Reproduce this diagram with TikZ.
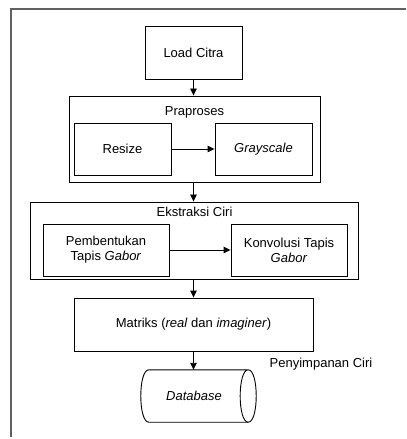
\documentclass[tikz,border=0pt]{standalone}
\usepackage{fontspec}
\setmainfont{Liberation Sans}
\usetikzlibrary{arrows.meta}
\begin{document}
\begin{tikzpicture}[x=1bp,y=-1bp,
  every node/.style={font=\fontsize{13bp}{15bp}\selectfont, inner sep=0pt, align=center},
  box/.style={draw=black, line width=0.9bp, fill=white},
  conn/.style={draw=black, line width=0.9bp, -{Triangle[length=7bp,width=6.5bp]}},
  lbl/.style={}]
\useasboundingbox (0,0) rectangle (406,439);
\fill[white] (0,0) rectangle (406,439);
\draw[draw=black!62, line width=1.3bp] (11,437) -- (11,9) -- (406,9);

\node[box, minimum width=97bp, minimum height=53bp] (load) at (193.5,52.5) {Load Citra};

\node[box, minimum width=251bp, minimum height=86bp] (prap) at (194.5,139) {};
\node[lbl] (praptitle) at (194.5,112) {Praproses};
\node[box, minimum width=97bp, minimum height=52bp] (resize) at (122.5,149) {Resize};
\node[box, minimum width=97bp, minimum height=52bp] (gray) at (263.5,149) {\textit{Grayscale}};

\node[box, minimum width=328bp, minimum height=77bp] (eks) at (194,240.5) {};
\node[lbl] (ekstitle) at (194.5,212) {Ekstraksi Ciri};
\node[box, minimum width=126bp, minimum height=52bp] (pemb) at (106,250) {Pembentukan\\Tapis \textit{Gabor}};
\node[box, minimum width=116bp, minimum height=52bp] (konv) at (289,250) {Konvolusi Tapis\\\textit{Gabor}};

\node[box, minimum width=239bp, minimum height=53bp] (mat) at (193.5,324.5) {Matriks (\textit{real} dan \textit{imaginer})};

\node[lbl] (simpan) at (321,364) {Penyimpanan Ciri};

\node[minimum width=99bp, minimum height=52bp] (db) at (198.5,396) {\textit{Database}\hspace*{9bp}};
\draw[line width=0.9bp] (db.north west) -- (db.north east)
  .. controls ([xshift=10.7bp]db.north east) and ([xshift=10.7bp]db.south east) .. (db.south east)
  .. controls ([xshift=-10.7bp]db.south east) and ([xshift=-10.7bp]db.north east) .. (db.north east);
\draw[line width=0.9bp] (db.south east) -- (db.south west)
  .. controls ([xshift=-10.7bp]db.south west) and ([xshift=-10.7bp]db.north west) .. (db.north west);

\draw[conn] (load.south) -- (prap.north -| load.south);
\draw[conn] (resize.east) -- (gray.west);
\draw[conn] (prap.south -| load.south) -- (eks.north -| load.south);
\draw[conn] (pemb.east) -- (konv.west);
\draw[conn] (eks.south -| load.south) -- (mat.north -| load.south);
\draw[conn] (mat.south -| load.south) -- (db.north -| load.south);
\end{tikzpicture}
\end{document}
